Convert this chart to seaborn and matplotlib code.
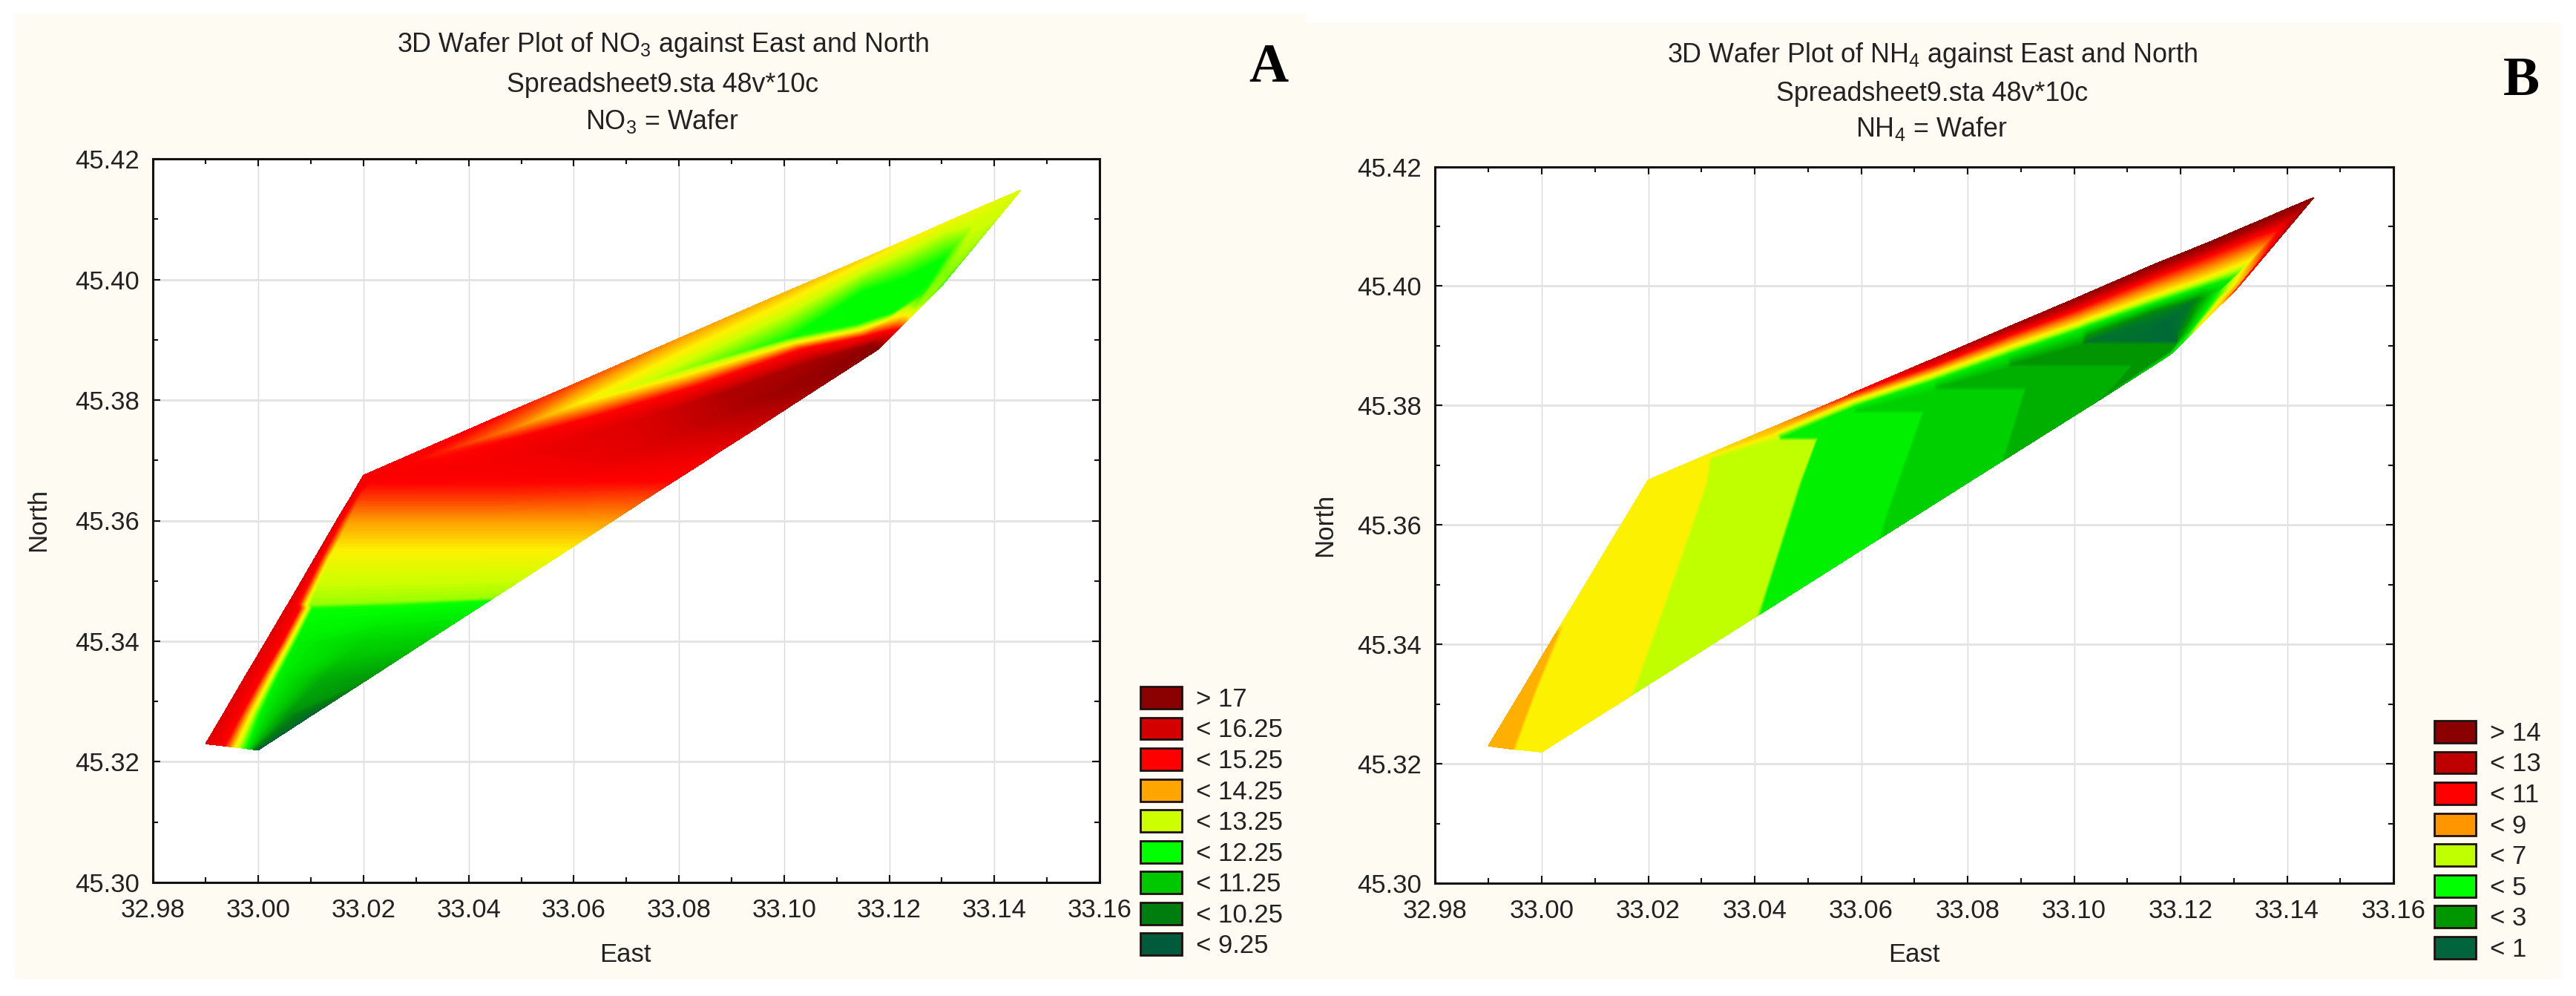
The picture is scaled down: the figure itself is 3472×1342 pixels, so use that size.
import numpy as np
import matplotlib
matplotlib.use("Agg")
import matplotlib.pyplot as plt
from matplotlib.colors import LinearSegmentedColormap, Normalize
from matplotlib.patches import Patch, Rectangle
import seaborn as sns

# ticks shared by both panels
east_ticks = [32.98, 33.00, 33.02, 33.04, 33.06, 33.08, 33.10, 33.12, 33.14, 33.16]
north_ticks = [45.30, 45.32, 45.34, 45.36, 45.38, 45.40, 45.42]

no3_east = [
    [32.99, 32.9935, 32.9955, 32.9975, 32.9985, 33.00],
    [32.9934, 32.9967, 32.9985, 33.0004, 33.0055, 33.0106],
    [32.9974, 33.0005, 33.0021, 33.0036, 33.012, 33.0213],
    [33.0015, 33.0045, 33.0058, 33.0072, 33.0195, 33.0319],
    [33.0052, 33.0078, 33.0091, 33.0102, 33.026, 33.0440],
    [33.0057, 33.0078, 33.0087, 33.0097, 33.027, 33.0449],
    [33.0109, 33.0120, 33.0128, 33.0135, 33.035, 33.0568],
    [33.0149, 33.0157, 33.0164, 33.0170, 33.042, 33.0674],
    [33.0180, 33.0185, 33.0190, 33.0195, 33.047, 33.0753],
    [33.02, 33.0205, 33.021, 33.0215, 33.05, 33.0798],
    [33.03, 33.033, 33.036, 33.04, 33.06, 33.0836],
    [33.045, 33.047, 33.05, 33.055, 33.07, 33.0876],
    [33.06, 33.061, 33.065, 33.07, 33.08, 33.0941],
    [33.08, 33.08, 33.083, 33.088, 33.095, 33.1047],
    [33.10, 33.1005, 33.103, 33.107, 33.111, 33.1136],
    [33.115, 33.1146, 33.1135, 33.1155, 33.1165, 33.118],
    [33.125, 33.1225, 33.121, 33.1195, 33.12, 33.1205],
    [33.1304, 33.1304, 33.1285, 33.1265, 33.125, 33.124],
    [33.138, 33.1365, 33.135, 33.1335, 33.1315, 33.13],
    [33.145, 33.145, 33.145, 33.145, 33.145, 33.145],
]
no3_north = [
    [45.323, 45.32265, 45.32245, 45.32225, 45.3221, 45.322],
    [45.328, 45.328, 45.328, 45.328, 45.328, 45.328],
    [45.334, 45.334, 45.334, 45.334, 45.334, 45.334],
    [45.340, 45.340, 45.340, 45.340, 45.340, 45.340],
    [45.3455, 45.3455, 45.3455, 45.3455, 45.346, 45.3468],
    [45.3462, 45.3462, 45.3462, 45.3462, 45.3467, 45.3473],
    [45.354, 45.354, 45.354, 45.354, 45.354, 45.354],
    [45.360, 45.360, 45.360, 45.360, 45.360, 45.360],
    [45.3645, 45.3645, 45.3645, 45.3645, 45.3645, 45.3645],
    [45.3675, 45.3672, 45.367, 45.3668, 45.367, 45.367],
    [45.3713, 45.3708, 45.370, 45.369, 45.3675, 45.3691],
    [45.3770, 45.3748, 45.3735, 45.372, 45.3705, 45.3714],
    [45.3826, 45.3794, 45.3775, 45.376, 45.3745, 45.375],
    [45.3902, 45.3848, 45.3825, 45.381, 45.380, 45.381],
    [45.3978, 45.3902, 45.3885, 45.3868, 45.3855, 45.386],
    [45.4034, 45.3978, 45.3925, 45.3905, 45.389, 45.3885],
    [45.4072, 45.400, 45.3946, 45.3928, 45.3915, 45.3907],
    [45.4093, 45.4034, 45.4005, 45.3975, 45.3953, 45.39375],
    [45.4122, 45.4095, 45.407, 45.4045, 45.4012, 45.399],
    [45.4148, 45.4148, 45.4148, 45.4148, 45.4148, 45.4148],
]
no3_value = [
    [16.0, 15.2, 13.7, 12.3, 11.0, 9.0],
    [16.0, 15.2, 13.7, 12.0, 10.6, 9.6],
    [16.0, 15.2, 13.7, 12.0, 10.9, 10.6],
    [16.0, 15.2, 13.7, 12.0, 11.5, 11.3],
    [16.0, 15.2, 13.7, 12.3, 12.35, 12.3],
    [16.0, 15.0, 14.0, 13.0, 13.0, 13.0],
    [15.9, 15.2, 14.4, 13.6, 13.6, 13.6],
    [15.8, 15.2, 14.7, 14.3, 14.3, 14.3],
    [15.7, 15.4, 15.2, 15.0, 15.0, 14.9],
    [15.6, 15.5, 15.4, 15.3, 15.3, 15.3],
    [15.4, 15.1, 15.3, 15.4, 15.4, 15.4],
    [15.2, 14.5, 15.4, 15.7, 15.8, 15.7],
    [14.8, 13.7, 15.2, 16.0, 16.3, 16.3],
    [14.3, 13.0, 15.0, 16.7, 16.9, 16.9],
    [14.1, 12.3, 15.0, 16.9, 17.2, 17.2],
    [13.9, 12.2, 12.2, 15.2, 17.2, 17.3],
    [13.7, 12.2, 12.2, 14.0, 15.2, 16.0],
    [13.6, 12.2, 12.2, 12.4, 13.0, 13.6],
    [13.5, 13.3, 13.2, 13.1, 12.9, 12.4],
    [13.4, 13.4, 13.4, 13.4, 13.4, 13.4],
]

# panel B, NH4 wafer, each edge read on both sides
nh4_east = [
    [32.99, 32.9944, 32.995, 32.9962, 32.9975, 32.9985, 32.9992, 32.9996, 33.00],
    [32.9961, 32.9984, 32.9989, 33.002, 33.0045, 33.006, 33.0075, 33.009, 33.0103],
    [33.0025, 33.0027, 33.0034, 33.006, 33.008, 33.0095, 33.011, 33.0125, 33.0135],
    [33.0036, 33.004, 33.0045, 33.007, 33.009, 33.0105, 33.012, 33.0135, 33.0146],
    [33.02, 33.0197, 33.0192, 33.0185, 33.0175, 33.0165, 33.0158, 33.0155, 33.0155],
    [33.0315, 33.0314, 33.0313, 33.0312, 33.0309, 33.0306, 33.0242, 33.0177, 33.01615],
    [33.0321, 33.032, 33.0319, 33.0318, 33.0315, 33.0312, 33.0248, 33.0183, 33.0172],
    [33.0432, 33.0434, 33.0437, 33.0441, 33.0446, 33.0512, 33.0482, 33.0420, 33.0401],
    [33.0438, 33.044, 33.0443, 33.0446, 33.045, 33.0518, 33.0488, 33.0426, 33.0412],
    [33.0574, 33.0576, 33.0578, 33.0581, 33.0584, 33.0711, 33.0665, 33.0645, 33.0628],
    [33.058, 33.0582, 33.0584, 33.0587, 33.059, 33.0717, 33.0671, 33.0651, 33.0639],
    [33.0725, 33.0728, 33.073, 33.0733, 33.0737, 33.0903, 33.0882, 33.0870, 33.0859],
    [33.0731, 33.0734, 33.0736, 33.0739, 33.0742, 33.0909, 33.0888, 33.0876, 33.0870],
    [33.0865, 33.0868, 33.087, 33.0872, 33.0875, 33.1102, 33.1075, 33.105, 33.1025],
    [33.087, 33.0873, 33.0875, 33.0877, 33.088, 33.1108, 33.1081, 33.1056, 33.1036],
    [33.1005, 33.1007, 33.1009, 33.1011, 33.1013, 33.1193, 33.1188, 33.1183, 33.118],
    [33.1015, 33.1017, 33.1019, 33.1021, 33.1022, 33.1193, 33.1198, 33.12, 33.1205],
    [33.115, 33.115, 33.115, 33.115, 33.115, 33.1165, 33.1195, 33.1215, 33.1222],
    [33.125, 33.125, 33.125, 33.1245, 33.1235, 33.1222, 33.1232, 33.1238, 33.124],
    [33.135, 33.1345, 33.1335, 33.1305, 33.1285, 33.127, 33.1268, 33.1272, 33.1275],
    [33.141, 33.1395, 33.138, 33.137, 33.135, 33.1335, 33.132, 33.131, 33.13],
    [33.145, 33.145, 33.145, 33.145, 33.145, 33.145, 33.145, 33.145, 33.145],
]
nh4_north = [
    [45.323, 45.32245, 45.3224, 45.3223, 45.32225, 45.3221, 45.3221, 45.322, 45.322],
    [45.332, 45.332, 45.332, 45.331, 45.3305, 45.330, 45.329, 45.328, 45.3278],
    [45.3416, 45.3416, 45.3416, 45.339, 45.337, 45.335, 45.333, 45.331, 45.3296],
    [45.3432, 45.343, 45.3428, 45.3405, 45.338, 45.3355, 45.3335, 45.3315, 45.3302],
    [45.3675, 45.366, 45.364, 45.360, 45.355, 45.348, 45.342, 45.337, 45.3307],
    [45.3719, 45.3716, 45.3713, 45.3708, 45.369, 45.3671, 45.3505, 45.3342, 45.3311],
    [45.3721, 45.3718, 45.3715, 45.3710, 45.369, 45.3671, 45.3505, 45.3342, 45.3317],
    [45.3763, 45.3757, 45.3752, 45.3746, 45.3740, 45.3740, 45.3671, 45.3496, 45.3446],
    [45.3765, 45.3760, 45.3756, 45.3751, 45.3746, 45.3746, 45.3671, 45.3496, 45.3452],
    [45.3816, 45.3813, 45.3807, 45.3796, 45.3785, 45.3785, 45.3671, 45.362, 45.3574],
    [45.3819, 45.3815, 45.3809, 45.3799, 45.3791, 45.3791, 45.3671, 45.362, 45.358],
    [45.3874, 45.3864, 45.3852, 45.3841, 45.3824, 45.3824, 45.3765, 45.373, 45.3704],
    [45.3876, 45.3866, 45.3854, 45.3843, 45.383, 45.383, 45.3765, 45.373, 45.371],
    [45.3927, 45.3915, 45.3897, 45.3885, 45.3863, 45.3863, 45.3838, 45.3815, 45.3797],
    [45.3929, 45.3917, 45.3899, 45.3887, 45.3869, 45.3869, 45.3838, 45.3815, 45.3803],
    [45.398, 45.3962, 45.394, 45.3928, 45.3901, 45.3901, 45.3895, 45.389, 45.3885],
    [45.3984, 45.3966, 45.3944, 45.3932, 45.3907, 45.3907, 45.3909, 45.3908, 45.3907],
    [45.4036, 45.4015, 45.3986, 45.3972, 45.3955, 45.3935, 45.3925, 45.392, 45.3922],
    [45.4072, 45.405, 45.4016, 45.400, 45.3985, 45.3974, 45.396, 45.3945, 45.39375],
    [45.411, 45.4085, 45.4046, 45.4015, 45.4001, 45.3988, 45.3978, 45.3972, 45.39685],
    [45.4133, 45.4115, 45.4095, 45.408, 45.4055, 45.4035, 45.4015, 45.40, 45.399],
    [45.4148, 45.4148, 45.4148, 45.4148, 45.4148, 45.4148, 45.4148, 45.4148, 45.4148],
]
nh4_value = [
    [8.6, 8.6, 7.6, 7.6, 7.6, 7.6, 7.6, 7.6, 7.6],
    [8.6, 8.6, 7.6, 7.6, 7.6, 7.6, 7.6, 7.6, 7.6],
    [8.6, 8.6, 7.6, 7.6, 7.6, 7.6, 7.6, 7.6, 7.6],
    [7.6, 7.6, 7.6, 7.6, 7.6, 7.6, 7.6, 7.6, 7.6],
    [7.6, 7.6, 7.6, 7.6, 7.6, 7.6, 7.6, 7.6, 7.6],
    [7.6, 7.6, 7.6, 7.6, 7.6, 7.6, 7.6, 7.6, 7.6],
    [7.8, 7.6, 7.2, 6.6, 6.6, 6.6, 6.6, 6.6, 6.6],
    [8.5, 8.2, 7.6, 6.8, 6.6, 6.6, 6.6, 6.6, 6.6],
    [8.6, 8.3, 7.6, 6.0, 5.0, 5.0, 5.0, 5.0, 5.0],
    [10.5, 9.5, 7.6, 5.0, 5.0, 5.0, 5.0, 5.0, 5.0],
    [10.6, 9.6, 7.6, 5.0, 4.3, 4.3, 4.3, 4.3, 4.3],
    [12.8, 10.5, 7.6, 5.0, 4.3, 4.3, 4.3, 4.3, 4.3],
    [12.9, 10.6, 7.6, 5.0, 3.6, 3.6, 3.6, 3.6, 3.6],
    [13.9, 11.0, 7.6, 5.0, 3.6, 3.6, 3.6, 3.6, 3.6],
    [14.0, 11.0, 7.6, 5.0, 3.0, 3.0, 3.0, 3.0, 3.0],
    [14.5, 11.0, 7.6, 5.0, 3.0, 3.0, 3.0, 3.4, 4.5],
    [14.5, 11.0, 7.6, 5.0, 1.6, 1.2, 3.0, 4.0, 5.0],
    [14.9, 11.0, 7.6, 5.0, 2.2, 1.0, 1.5, 4.5, 6.0],
    [15.0, 11.0, 7.6, 5.0, 3.5, 1.8, 3.5, 5.0, 7.6],
    [15.0, 11.0, 7.6, 5.0, 4.7, 5.0, 5.5, 7.6, 8.0],
    [15.0, 13.0, 11.0, 10.0, 9.5, 9.0, 8.5, 9.0, 10.0],
    [15.0, 15.0, 15.0, 15.0, 15.0, 15.0, 15.0, 15.0, 15.0],
]

# legends
no3_labels = ["> 17", "< 16.25", "< 15.25", "< 14.25", "< 13.25", "< 12.25", "< 11.25", "< 10.25", "< 9.25"]
no3_colors = ["#8B0000", "#D40000", "#FF0000", "#FFA500", "#CCFF00", "#00FF00", "#00C800", "#007D0F", "#005A3C"]
nh4_labels = ["> 14", "< 13", "< 11", "< 9", "< 7", "< 5", "< 3", "< 1"]
nh4_colors = ["#8B0000", "#BE0000", "#FF0000", "#FF9600", "#C0FF00", "#00FF00", "#009600", "#00643C"]

# colour stops for the shading, legend colours plus the yellow between them
no3_stops = [9.25, 10.25, 11.25, 12.25, 13.25, 13.75, 14.25, 15.25, 16.25, 17.25]
no3_stop_colors = ["#005A3C", "#007D0F", "#00C800", "#00FF00", "#CCFF00", "#FFF000", "#FFA500", "#FF0000", "#D40000", "#8B0000"]
nh4_stops = [1, 3, 5, 6.6, 7.6, 9, 11, 13, 15]
nh4_stop_colors = ["#00643C", "#009600", "#00F000", "#C0FF00", "#FFF000", "#FF9600", "#FF0000", "#BE0000", "#8B0000"]

W, H = 3473, 1342
CREAM = "#FEFBF3"
TEXT = "#222222"

sns.set_theme(style="whitegrid")
plt.rcParams["font.family"] = ["Liberation Sans", "DejaVu Sans"]
plt.rcParams["mathtext.default"] = "regular"
plt.rcParams["font.size"] = 25

fig = plt.figure(figsize=(W / 100, H / 100), dpi=100, facecolor="white")


def fx(x):
    return x / W


def fy(y):
    return 1 - y / H


def put(x, y, s, **kw):
    kw.setdefault("color", TEXT)
    kw.setdefault("ha", "center")
    kw.setdefault("va", "center")
    kw.setdefault("fontsize", 25)
    fig.text(fx(x), fy(y), s, **kw)


def draw_panel(box, east, north, value, stops, stop_colors, labels, colors, legend_at):
    left, top, right, bottom = box
    ax = fig.add_axes([fx(left), fy(bottom), (right - left) / W, (bottom - top) / H])
    ax.set_facecolor("white")

    lo, hi = stops[0], stops[-1]
    cmap = LinearSegmentedColormap.from_list(
        "wafer", [((s - lo) / (hi - lo), c) for s, c in zip(stops, stop_colors)], N=512)
    z = np.array(value)
    levels = np.linspace(z.min() - 0.01, z.max() + 0.01, 160)
    cs = ax.contourf(np.array(east), np.array(north), z, levels=levels, cmap=cmap,
                     norm=Normalize(lo, hi), zorder=2)
    cs.set_edgecolor("face")
    cs.set_linewidth(0.4)

    ax.set_xlim(32.98, 33.16)
    ax.set_ylim(45.30, 45.42)
    ax.set_xticks(east_ticks)
    ax.set_yticks(north_ticks)
    ax.set_xticklabels([f"{t:.2f}" for t in east_ticks])
    ax.set_yticklabels([f"{t:.2f}" for t in north_ticks])
    ax.set_xticks(np.arange(32.99, 33.16, 0.02), minor=True)
    ax.set_yticks(np.arange(45.31, 45.42, 0.02), minor=True)
    ax.set_axisbelow(True)
    ax.grid(True, which="major", axis="x", color="#DADADA", lw=1.0)
    ax.grid(True, which="major", axis="y", color="#E2E2E2", lw=2.0)
    ax.grid(False, which="minor")
    ax.tick_params(axis="both", which="major", direction="in", length=7.5, width=1.5,
                   color="#111111", labelcolor=TEXT, labelsize=25, top=True, right=True,
                   bottom=True, left=True)
    ax.tick_params(axis="both", which="minor", direction="in", length=5, width=1.5,
                   color="#111111", top=True, right=True, bottom=True, left=True)
    ax.tick_params(axis="x", which="major", pad=15)
    ax.tick_params(axis="y", which="major", pad=13)
    for side in ax.spines.values():
        side.set_visible(True)
        side.set_color("#111111")
        side.set_linewidth(2.2)

    handles = [Patch(facecolor=c, edgecolor="#201010", linewidth=2) for c in colors]
    fig.legend(handles, labels, loc="upper left", bbox_to_anchor=(fx(legend_at[0]), fy(legend_at[1])),
               frameon=False, fontsize=25, labelcolor=TEXT, handlelength=1.6, handleheight=0.95,
               labelspacing=0.22, handletextpad=0.55, borderaxespad=0, borderpad=0)
    return ax


# cream page behind each panel
fig.add_artist(Rectangle((fx(20), fy(1319)), (1760 - 20) / W, (1319 - 19) / H,
                         transform=fig.transFigure, facecolor=CREAM, edgecolor="none", zorder=-2))
fig.add_artist(Rectangle((fx(1760), fy(1319)), (3452 - 1760) / W, (1319 - 31) / H,
                         transform=fig.transFigure, facecolor=CREAM, edgecolor="none", zorder=-2))

draw_panel((206.5, 214, 1482, 1189), no3_east, no3_north, no3_value, no3_stops, no3_stop_colors,
           no3_labels, no3_colors, (1537, 925))
draw_panel((1934.5, 224.5, 3226, 1190), nh4_east, nh4_north, nh4_value, nh4_stops, nh4_stop_colors,
           nh4_labels, nh4_colors, (3281, 971))

# panel A text
put(893, 60, "3D Wafer Plot of NO$_3$ against East and North", fontsize=25.8)
put(893, 114, "Spreadsheet9.sta 48v*10c", fontsize=25.8)
put(893, 163, "NO$_3$ = Wafer", fontsize=25.8)
put(843, 1286, "East")
put(52, 700, "North", rotation=90)
put(1710, 92, "A", family="Liberation Serif", fontweight="bold", fontsize=53, color="black")

# panel B text
put(2604, 74, "3D Wafer Plot of NH$_4$ against East and North", fontsize=25.8)
put(2604, 127, "Spreadsheet9.sta 48v*10c", fontsize=25.8)
put(2604, 174, "NH$_4$ = Wafer", fontsize=25.8)
put(2580, 1286, "East")
put(1786, 707, "North", rotation=90)
put(3398, 110, "B", family="Liberation Serif", fontweight="bold", fontsize=53, color="black")

fig.savefig("out.png", dpi=100)
